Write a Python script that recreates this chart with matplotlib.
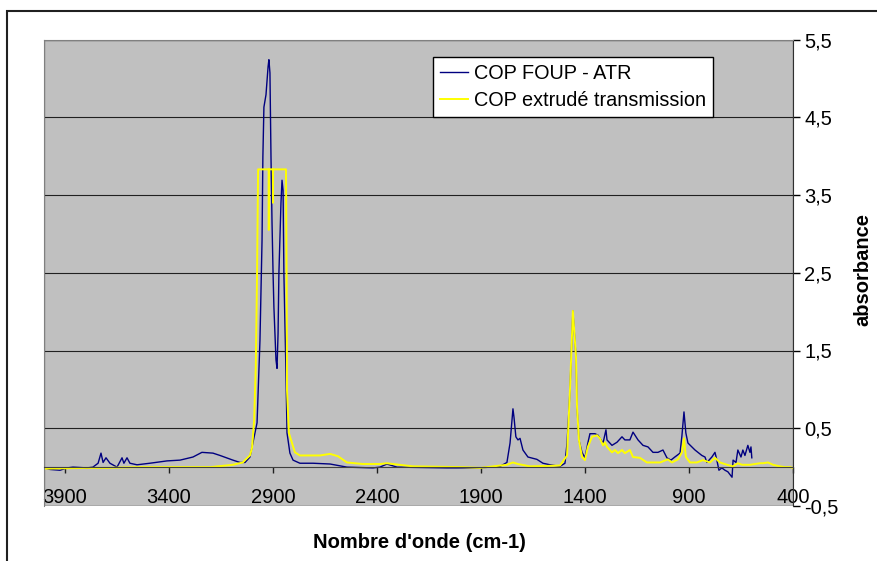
"""
IR spectra: COP FOUP (ATR) vs extruded COP (transmission).
"""
import matplotlib
matplotlib.use("Agg")
import matplotlib.pyplot as plt
import matplotlib.patches as mpatches
from matplotlib.ticker import FixedLocator, FuncFormatter

plt.rcParams['font.family'] = ['Liberation Sans', 'DejaVu Sans']

# --- data ---
atr_wn = [4000, 3971, 3923, 3889, 3861, 3793, 3765, 3740, 3726, 3716, 3702, 3683,
          3649, 3625, 3616, 3601, 3587, 3553, 3491, 3409, 3346, 3284, 3241, 3188,
          3154, 3092, 3058, 3034, 3010, 2976, 2962, 2952, 2948, 2943, 2933, 2923,
          2919, 2914, 2909, 2904, 2899, 2895, 2885, 2880, 2875, 2871, 2861, 2856,
          2851, 2847, 2837, 2832, 2818, 2803, 2770, 2707, 2625, 2544, 2419, 2385,
          2352, 2303, 2063, 1905, 1808, 1775, 1760, 1751, 1746, 1741, 1732, 1722,
          1712, 1698, 1674, 1631, 1602, 1568, 1520, 1496, 1486, 1477, 1472, 1458,
          1443, 1438, 1429, 1414, 1400, 1386, 1376, 1352, 1337, 1328, 1313, 1299,
          1294, 1270, 1246, 1222, 1208, 1184, 1169, 1145, 1121, 1097, 1073, 1049,
          1025, 1006, 987, 968, 943, 934, 924, 915, 905, 886, 871, 857,
          838, 823, 814, 790, 775, 766, 756, 742, 727, 713, 693, 688,
          674, 665, 650, 641, 631, 617, 607, 602, 598]
atr_abs = [-0.01, -0.03, -0.04, -0.01, 0.00, -0.01, 0.00, 0.05, 0.18, 0.06, 0.12, 0.05,
           0.00, 0.12, 0.05, 0.12, 0.05, 0.03, 0.05, 0.08, 0.09, 0.13, 0.19, 0.18,
           0.15, 0.09, 0.06, 0.06, 0.13, 0.57, 1.63, 2.92, 3.99, 4.63, 4.79, 5.15,
           5.24, 5.07, 3.99, 3.14, 2.49, 2.06, 1.38, 1.27, 1.72, 2.49, 3.40, 3.69,
           3.56, 2.49, 1.21, 0.44, 0.18, 0.09, 0.05, 0.05, 0.04, 0.00, -0.01, 0.00,
           0.04, 0.00, -0.01, -0.01, 0.01, 0.06, 0.31, 0.60, 0.75, 0.64, 0.39, 0.35,
           0.37, 0.22, 0.13, 0.10, 0.05, 0.03, 0.01, 0.05, 0.31, 0.73, 0.99, 2.01,
           1.42, 0.77, 0.35, 0.19, 0.12, 0.31, 0.43, 0.43, 0.41, 0.37, 0.31, 0.48,
           0.35, 0.28, 0.32, 0.39, 0.35, 0.35, 0.45, 0.35, 0.28, 0.26, 0.19, 0.19,
           0.22, 0.12, 0.09, 0.13, 0.18, 0.40, 0.71, 0.44, 0.31, 0.26, 0.22, 0.19,
           0.15, 0.13, 0.06, 0.13, 0.19, 0.09, -0.04, -0.01, -0.04, -0.06, -0.13, 0.09,
           0.06, 0.22, 0.13, 0.22, 0.15, 0.28, 0.19, 0.26, 0.12]

trans_wn = [4000, 3800, 3700, 3550, 3400, 3200, 3092, 3044, 3034, 3010, 3000, 2990,
            2982, 2976, 2971, 2920, 2919.5, 2919, 2900, 2899.5, 2899, 2837, 2834, 2832,
            2823, 2794, 2770, 2707, 2674, 2625, 2587, 2544, 2467, 2385, 2352, 2323,
            2227, 1986, 1905, 1775, 1746, 1722, 1664, 1520, 1486, 1472, 1458, 1443,
            1438, 1429, 1414, 1400, 1386, 1366, 1342, 1328, 1313, 1304, 1294, 1270,
            1256, 1241, 1222, 1208, 1184, 1169, 1136, 1102, 1039, 1001, 982, 953,
            934, 924, 915, 895, 862, 833, 799, 775, 751, 717, 689, 665,
            645, 607, 559, 544, 520, 496, 463, 439, 415, 400]
trans_abs = [-0.02, -0.01, -0.01, 0.00, 0.00, 0.00, 0.03, 0.06, 0.09, 0.15, 0.25, 0.60,
             1.30, 2.49, 3.83, 3.83, 3.05, 3.83, 3.83, 3.40, 3.83, 3.83, 2.49, 0.99,
             0.44, 0.19, 0.15, 0.15, 0.15, 0.17, 0.14, 0.06, 0.04, 0.04, 0.05, 0.04,
             0.01, 0.00, -0.01, 0.03, 0.06, 0.04, 0.01, 0.02, 0.15, 0.99, 2.01, 1.42,
             0.77, 0.35, 0.13, 0.09, 0.26, 0.39, 0.41, 0.37, 0.28, 0.32, 0.26, 0.19,
             0.22, 0.18, 0.22, 0.18, 0.22, 0.13, 0.12, 0.06, 0.06, 0.10, 0.06, 0.10,
             0.19, 0.37, 0.13, 0.06, 0.06, 0.09, 0.06, 0.12, 0.06, 0.03, 0.01, 0.05,
             0.03, 0.03, 0.05, 0.05, 0.06, 0.03, 0.01, 0.00, 0.00, -0.01]

x_ticks = [3900, 3400, 2900, 2400, 1900, 1400, 900, 400]
y_ticks = [-0.5, 0.5, 1.5, 2.5, 3.5, 4.5, 5.5]
series_labels = ['COP FOUP - ATR', 'COP extrudé transmission']

W, H = 878, 561
fig = plt.figure(figsize=(W / 100, H / 100), dpi=100, facecolor='white')

# outer chart frame (cropped at right/bottom)
fig.patches.append(mpatches.Rectangle((7 / W, -0.1), 1.2, (H - 11) / H + 0.1,
                                      transform=fig.transFigure, fill=False,
                                      edgecolor='#202020', linewidth=1.5))

ax = fig.add_axes([44 / W, (H - 506) / H, (793 - 44) / W, (506 - 39.5) / H])
ax.set_facecolor('#C0C0C0')

ax.plot(atr_wn, atr_abs, color='#000080', linewidth=1.0, label=series_labels[0])
ax.plot(trans_wn, trans_abs, color='#FFFF00', linewidth=1.4, label=series_labels[1])

ax.set_xlim(4000, 400)
ax.set_ylim(-0.5, 5.5)

# horizontal grid
ax.yaxis.set_major_locator(FixedLocator(y_ticks))
ax.grid(True, axis='y', color='#202020', linewidth=0.8)
ax.set_axisbelow(True)

# plot frame in gray, x axis at zero, y axis on the right
for side in ['top', 'left']:
    ax.spines[side].set_color('#808080')
ax.spines['bottom'].set_position(('data', 0))
ax.spines['bottom'].set_color('#404040')
ax.spines['right'].set_color('#303030')
ax.add_patch(mpatches.Rectangle((0, 0), 1, 1, transform=ax.transAxes, fill=False,
                                edgecolor='#808080', linewidth=1.0, zorder=0.5))

ax.xaxis.set_major_locator(FixedLocator(x_ticks))
ax.tick_params(axis='x', direction='out', length=4, width=1, pad=11,
               labelsize=14.5, color='#202020')
ax.yaxis.tick_right()
ax.yaxis.set_major_formatter(FuncFormatter(lambda v, p: f"{v:.1f}".replace('.', ',')))
ax.tick_params(axis='y', direction='out', length=5, width=1, pad=3, labelsize=14.5)

fig.text(419 / W, 1 - 543 / H, "Nombre d'onde (cm-1)", ha='center', va='center',
         fontsize=14.5, fontweight='bold')
fig.text(863 / W, 1 - 270 / H, 'absorbance', ha='center', va='center',
         rotation=90, fontsize=14.5, fontweight='bold')

leg = ax.legend(loc='upper left', bbox_to_anchor=(433 / W, 1 - 57 / H),
                bbox_transform=fig.transFigure, fontsize=14.3, frameon=True,
                fancybox=False, framealpha=1, edgecolor='black',
                handlelength=1.4, handletextpad=0.3, borderpad=0.35,
                labelspacing=0.4, borderaxespad=0)
leg.get_frame().set_linewidth(1.0)

fig.savefig('out.png', dpi=100, facecolor='white')
